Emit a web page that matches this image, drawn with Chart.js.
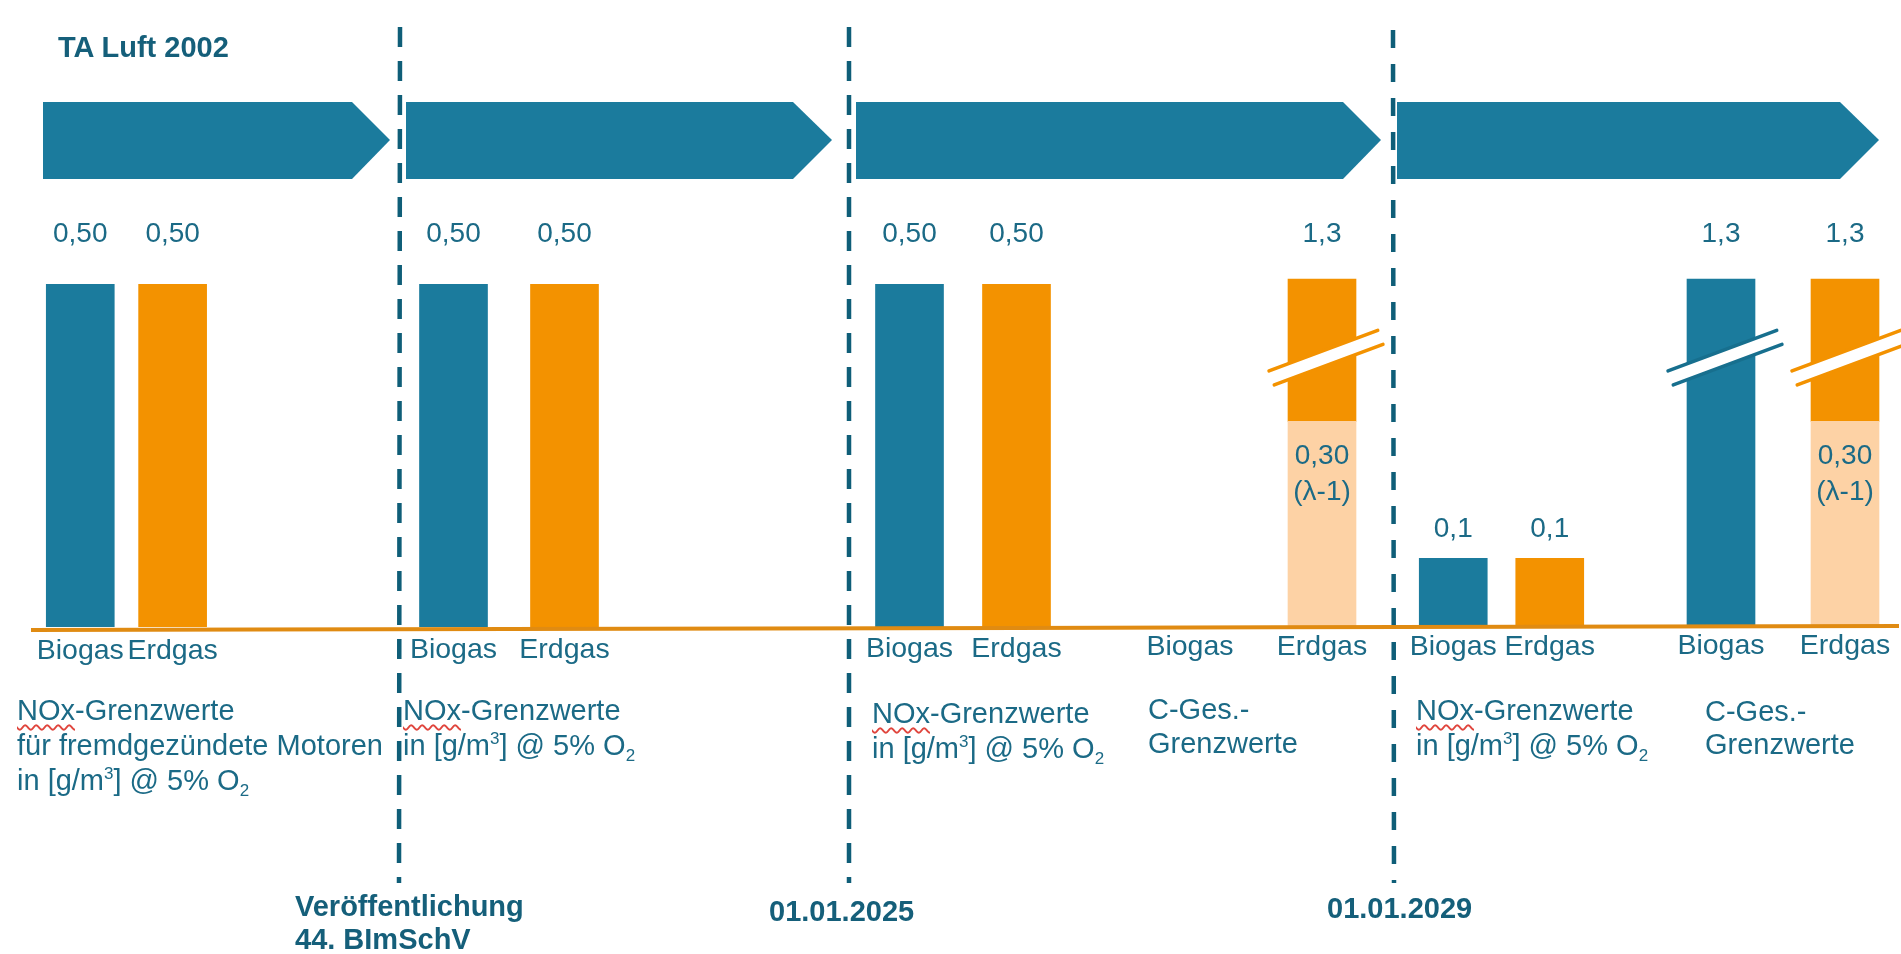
<!DOCTYPE html>
<html lang="de">
<head>
<meta charset="utf-8">
<title>NOx- und C-Ges.-Grenzwerte</title>
<script src="https://cdn.jsdelivr.net/npm/chart.js@4.4.1/dist/chart.umd.min.js"></script>
<style>
  html, body { margin: 0; padding: 0; background: #ffffff; }
  body { width: 1901px; height: 954px; overflow: hidden; position: relative;
         font-family: "Liberation Sans", Arial, sans-serif; }
  #stage { position: absolute; left: 0; top: 0; width: 1901px; height: 954px; }
  canvas.panel { position: absolute; }
  svg.decor { position: absolute; left: 0; top: 0; z-index: 5; pointer-events: none; }
  .txt { position: absolute; z-index: 6; font-size: 29px; line-height: 35px; color: #1B6A86; white-space: nowrap; }
  .bold { font-weight: bold; color: #155F7A; line-height: 33px; }
  .sp { text-decoration: underline wavy #E0453D; text-decoration-thickness: 1.5px; text-underline-offset: 4px; }
  sup, sub { font-size: 17px; line-height: 0; position: relative; vertical-align: baseline; }
  sup { top: -11px; }
  sub { top: 6px; }
</style>
</head>
<body>
<div id="stage">
  <svg class="decor" width="1901" height="954" viewBox="0 0 1901 954">
    <!-- timeline arrows -->
    <polygon points="43,102 352,102 390,140 352,179 43,179" fill="#1B7B9D"/>
    <polygon points="406,102 793,102 832,140 793,179 406,179" fill="#1B7B9D"/>
    <polygon points="856,102 1343,102 1381,140 1343,179 856,179" fill="#1B7B9D"/>
    <polygon points="1397,102 1840,102 1879,140 1840,179 1397,179" fill="#1B7B9D"/>
    <!-- date separators -->
    <line x1="400" y1="27" x2="399" y2="883" stroke="#0F5E78" stroke-width="4.5" stroke-dasharray="20 14"/>
    <line x1="849" y1="27" x2="849" y2="883" stroke="#0F5E78" stroke-width="4.5" stroke-dasharray="20 14"/>
    <line x1="1393" y1="30" x2="1394" y2="883" stroke="#0F5E78" stroke-width="4.5" stroke-dasharray="18 16"/>
    <!-- baseline -->
    <line x1="31" y1="630" x2="1899" y2="626" stroke="#E08B12" stroke-width="4"/>
  </svg>

  <div class="txt bold" style="left:58px; top:31px;">TA Luft 2002</div>

  <div class="txt" style="left:17px; top:693px;"><span class="sp">NOx</span>-Grenzwerte<br>für fremdgezündete Motoren<br>in [g/m<sup>3</sup>] @ 5% O<sub>2</sub></div>
  <div class="txt" style="left:403px; top:693px;"><span class="sp">NOx</span>-Grenzwerte<br>in [g/m<sup>3</sup>] @ 5% O<sub>2</sub></div>
  <div class="txt" style="left:872px; top:696px;"><span class="sp">NOx</span>-Grenzwerte<br>in [g/m<sup>3</sup>] @ 5% O<sub>2</sub></div>
  <div class="txt" style="left:1148px; top:692px; line-height:34px;">C-Ges.-<br>Grenzwerte</div>
  <div class="txt" style="left:1416px; top:693px;"><span class="sp">NOx</span>-Grenzwerte<br>in [g/m<sup>3</sup>] @ 5% O<sub>2</sub></div>
  <div class="txt" style="left:1705px; top:695px; line-height:33px;">C-Ges.-<br>Grenzwerte</div>

  <div class="txt bold" style="left:295px; top:890px;">Veröffentlichung<br>44. BImSchV</div>
  <div class="txt bold" style="left:769px; top:895px;">01.01.2025</div>
  <div class="txt bold" style="left:1327px; top:892px;">01.01.2029</div>
</div>

<script>
// ---------------- data ----------------
const categories = ['Biogas', 'Erdgas'];
const periods = ['TA Luft 2002', '44. BImSchV', '01.01.2025', '01.01.2025', '01.01.2029', '01.01.2029'];
const limitTypes = ['NOx', 'NOx', 'NOx', 'C-Ges.', 'NOx', 'C-Ges.'];
const biogasValues = [0.50, 0.50, 0.50, null, 0.10, 1.30];
const erdgasValues = [0.50, 0.50, 0.50, 1.30, 0.10, 1.30];
const erdgasLambdaValues = [null, null, null, 0.30, null, 0.30];
const biogasLabels = ['0,50', '0,50', '0,50', '', '0,1', '1,3'];
const erdgasLabels = ['0,50', '0,50', '0,50', '1,3', '0,1', '1,3'];
const lambdaLabels = ['', '', '', '0,30|(λ-1)', '', '0,30|(λ-1)'];

// ---------------- styles / layout ----------------
const BLUE = '#1B7B9D', ORANGE = '#F39200', LIGHT = '#FDD2A5', TEXT = '#1B6A86';
const BREAK_BLUE = '#176F8E';
const FONT = '"Liberation Sans", Arial, sans-serif';
const panelLayout = [
  { left: 31,   width: 193, tickPad: 7 },
  { left: 398,  width: 222, tickPad: 6 },
  { left: 856,  width: 214, tickPad: 5 },
  { left: 1124, width: 264, tickPad: 3 },
  { left: 1405, width: 193, tickPad: 3 },
  { left: 1659, width: 248, tickPad: 2 }
];
const PANEL_TOP = 180, PANEL_HEIGHT = 520, AXIS_HEIGHT = 73, PAD_TOP = 22;

// broken value axis: linear up to BREAK_AT, strongly compressed above (marked by break symbols)
const BREAK_AT = 0.5, BREAK_K = 0.0096, BREAK_MARK_VALUE = 0.393;
const fwd = v => (v === null || v === undefined || v <= BREAK_AT) ? v : BREAK_AT + (v - BREAK_AT) * BREAK_K;
const inv = t => (t <= BREAK_AT) ? t : BREAK_AT + (t - BREAK_AT) / BREAK_K;
const BaseLinear = Chart.LinearScale || Chart.registry.getScale('linear');
class BrokenLinearScale extends BaseLinear {
  getPixelForValue(value) { return super.getPixelForValue(fwd(value)); }
  getValueForPixel(pixel) { return inv(super.getValueForPixel(pixel)); }
}
BrokenLinearScale.id = 'brokenLinear';
BrokenLinearScale.defaults = BaseLinear.defaults;
Chart.register(BrokenLinearScale);

function drawBreak(ctx, cx, cy, color) {
  const dx = 0.937, dy = -0.349;   // along the break
  const px = 0.349, py = 0.937;    // across the break
  const half = 58, gap = 15;
  const mx = cx + 4, my = cy;
  const ux = mx - px * gap / 2, uy = my - py * gap / 2;
  const lx = mx + px * gap / 2, ly = my + py * gap / 2;
  ctx.save();
  ctx.fillStyle = '#ffffff';
  ctx.beginPath();
  ctx.moveTo(ux - dx * half, uy - dy * half);
  ctx.lineTo(ux + dx * half, uy + dy * half);
  ctx.lineTo(lx + dx * half, ly + dy * half);
  ctx.lineTo(lx - dx * half, ly - dy * half);
  ctx.closePath();
  ctx.fill();
  ctx.strokeStyle = color;
  ctx.lineWidth = 3.5;
  ctx.lineCap = 'round';
  ctx.beginPath();
  ctx.moveTo(ux - dx * half, uy - dy * half); ctx.lineTo(ux + dx * half, uy + dy * half);
  ctx.moveTo(lx - dx * half, ly - dy * half); ctx.lineTo(lx + dx * half, ly + dy * half);
  ctx.stroke();
  ctx.restore();
}

const barDecor = {
  id: 'barDecor',
  afterDatasetsDraw(chart, args, opts) {
    const i = opts.panel;
    const ctx = chart.ctx;
    const yScale = chart.scales.y;
    const metaBase = chart.getDatasetMeta(0);
    const metaTop = chart.getDatasetMeta(1);
    const vals = [biogasValues[i], erdgasValues[i]];
    const texts = [biogasLabels[i], erdgasLabels[i]];
    const colors = [BREAK_BLUE, ORANGE];
    const topRow = chart.chartArea.top + 32;
    ctx.save();
    ctx.font = '28px ' + FONT;
    ctx.textAlign = 'center';
    ctx.textBaseline = 'middle';
    for (let j = 0; j < 2; j++) {
      if (vals[j] === null) continue;
      const baseEl = metaBase.data[j];
      const hasTop = chart.data.datasets[1].data[j] !== null;
      const topEl = hasTop ? metaTop.data[j] : baseEl;
      const cx = baseEl.x;
      if (vals[j] > BREAK_AT) drawBreak(ctx, cx, yScale.getPixelForValue(BREAK_MARK_VALUE), colors[j]);
      const near = topEl.y - 29;
      const ly = near > topRow + 60 ? near : topRow;
      ctx.fillStyle = TEXT;
      ctx.fillText(texts[j], cx, ly);
      if (j === 1 && lambdaLabels[i]) {
        const lines = lambdaLabels[i].split('|');
        ctx.fillText(lines[0], cx, baseEl.y + 35);
        ctx.fillText(lines[1], cx, baseEl.y + 71);
      }
    }
    ctx.restore();
  }
};

const stage = document.getElementById('stage');
panelLayout.forEach((lay, i) => {
  const cv = document.createElement('canvas');
  cv.className = 'panel';
  cv.width = lay.width;
  cv.height = PANEL_HEIGHT;
  cv.style.left = lay.left + 'px';
  cv.style.top = PANEL_TOP + 'px';
  cv.style.width = lay.width + 'px';
  cv.style.height = PANEL_HEIGHT + 'px';
  stage.appendChild(cv);
  const lam = erdgasLambdaValues[i];
  new Chart(cv, {
    type: 'bar',
    data: {
      labels: categories,
      datasets: [
        {
          label: limitTypes[i] + ' ' + periods[i],
          data: [biogasValues[i], lam !== null ? lam : erdgasValues[i]],
          backgroundColor: [BLUE, lam !== null ? LIGHT : ORANGE],
          stack: 'g', barThickness: 68
        },
        {
          label: limitTypes[i] + ' ' + periods[i] + ' (λ=1)',
          data: [null, lam !== null ? erdgasValues[i] - lam : null],
          backgroundColor: ORANGE,
          stack: 'g', barThickness: 68
        }
      ]
    },
    options: {
      responsive: false,
      animation: false,
      devicePixelRatio: 1,
      layout: { padding: { top: PAD_TOP, left: 0, right: 0, bottom: 0 } },
      plugins: { legend: { display: false }, tooltip: { enabled: false }, barDecor: { panel: i } },
      scales: {
        x: {
          stacked: true, offset: true,
          grid: { display: false, drawTicks: false },
          border: { display: false },
          ticks: { color: TEXT, font: { family: FONT, size: 28.5 }, padding: lay.tickPad, autoSkip: false, maxRotation: 0, minRotation: 0 },
          afterFit: s => { s.height = AXIS_HEIGHT; }
        },
        y: { type: 'brokenLinear', stacked: true, min: 0, max: 0.62, display: false }
      }
    },
    plugins: [barDecor]
  });
});
</script>
</body>
</html>
